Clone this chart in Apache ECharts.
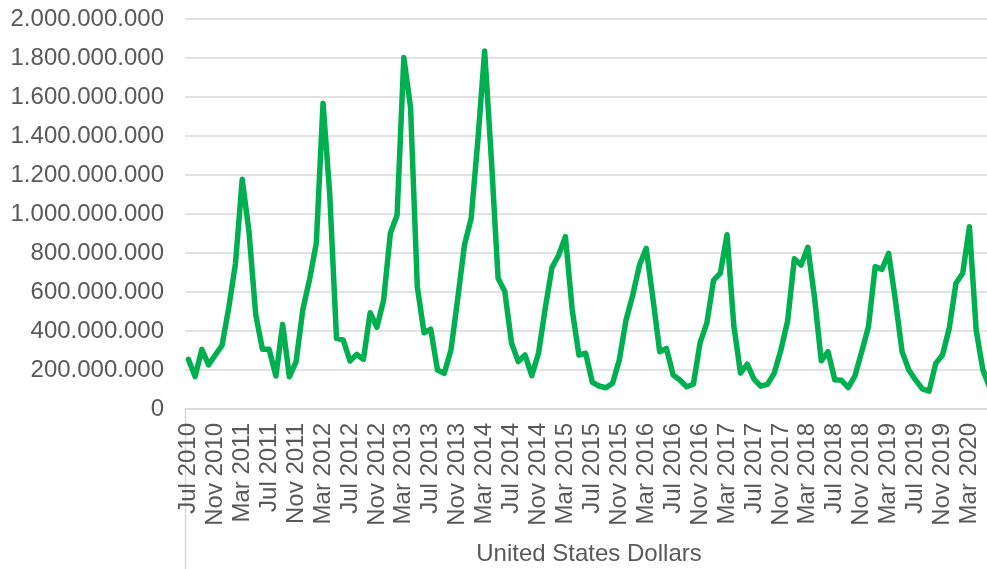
<!DOCTYPE html>
<html>
<head>
<meta charset="utf-8">
<script src="https://cdn.jsdelivr.net/npm/echarts@6/dist/echarts.min.js"></script>
<style>
html,body{margin:0;padding:0;background:#fff;}
#chart{width:987px;height:569px;}
</style>
</head>
<body>
<div id="chart"></div>
<script>
// Monthly categories Jul 2010 .. Jun 2020
var monthNames = ['Jan','Feb','Mar','Apr','May','Jun','Jul','Aug','Sep','Oct','Nov','Dec'];
var startYear = 2010, startMonth = 6, monthCount = 120;
var categories = [];
for (var k = 0; k < monthCount; k++) {
  var m = (startMonth + k) % 12;
  var y = startYear + Math.floor((startMonth + k) / 12);
  categories.push(monthNames[m] + ' ' + y);
}

// Values in millions of USD
var values2010_2012 = [255,166,306,226,277,326,520,747,1178,910,485,306,306,169,434,165,243,510,665,850,1568,1100,362,354];
var values2012_2014 = [246,280,255,494,419,559,901,995,1803,1545,627,391,409,200,183,303,565,840,978,1380,1836,1282,670,602];
var values2014_2016 = [337,243,277,171,286,516,725,790,884,510,277,286,137,118,109,132,251,456,585,738,824,565,294,311];
var values2016_2018 = [174,149,114,127,340,440,661,696,894,430,184,230,153,117,126,183,303,452,770,738,829,570,247,294];
var values2018_2020 = [150,147,110,170,294,422,730,716,798,559,294,200,149,103,92,234,277,414,645,696,935,405,200,110];

var axisTitle = 'United States Dollars';
var yTicks = [0, 200000000, 400000000, 600000000, 800000000, 1000000000, 1200000000, 1400000000, 1600000000, 1800000000, 2000000000];

var valuesMillions = [].concat(values2010_2012, values2012_2014, values2014_2016, values2016_2018, values2018_2020);
var seriesData = valuesMillions.map(function (v) { return v * 1000000; });

function fmt(v) {
  return Math.round(v).toString().replace(/\B(?=(\d{3})+(?!\d))/g, '.');
}

var chart = echarts.init(document.getElementById('chart'), null, {renderer: 'canvas'});
var font = 'Liberation Sans, Arial, sans-serif';
var option = {
  animation: false,
  backgroundColor: '#ffffff',
  grid: {left: 185, right: -6, top: 19, bottom: 160, containLabel: false, outerBoundsMode: 'none'},
  xAxis: {
    type: 'category',
    data: categories,
    boundaryGap: true,
    name: axisTitle,
    nameLocation: 'middle',
    nameGap: 133,
    nameTextStyle: {color: '#595959', fontSize: 24, fontFamily: font},
    axisLine: {show: true, lineStyle: {color: '#d9d9d9', width: 1.5}},
    axisTick: {show: false},
    axisLabel: {
      interval: 3,
      rotate: 90,
      margin: 14,
      color: '#595959',
      fontSize: 24,
      fontFamily: font
    },
    splitLine: {show: false}
  },
  yAxis: {
    type: 'value',
    min: yTicks[0],
    max: yTicks[yTicks.length - 1],
    interval: yTicks[1] - yTicks[0],
    axisLine: {show: false},
    axisTick: {show: false},
    axisLabel: {
      margin: 21,
      color: '#595959',
      fontSize: 24,
      fontFamily: font,
      formatter: function (v) { return fmt(v); }
    },
    splitLine: {show: true, lineStyle: {color: '#d9d9d9', width: 1.5}}
  },
  series: [{
    type: 'line',
    data: seriesData,
    symbol: 'none',
    smooth: false,
    lineStyle: {color: '#00B050', width: 5.5, join: 'round', cap: 'round'},
    itemStyle: {color: '#00B050'}
  }]
};
chart.setOption(option);

// divider line of the category axis group (left edge below the axis)
var p0 = chart.convertToPixel({gridIndex: 0}, [0, 0]);
var band = chart.convertToPixel({gridIndex: 0}, [1, 0])[0] - p0[0];
var leftX = Math.round(p0[0] - band / 2) + 0.5;
chart.setOption({
  graphic: [{
    type: 'line',
    shape: {x1: leftX, y1: p0[1], x2: leftX, y2: 569},
    style: {stroke: '#d9d9d9', lineWidth: 1.5},
    silent: true
  }]
});
</script>
</body>
</html>
